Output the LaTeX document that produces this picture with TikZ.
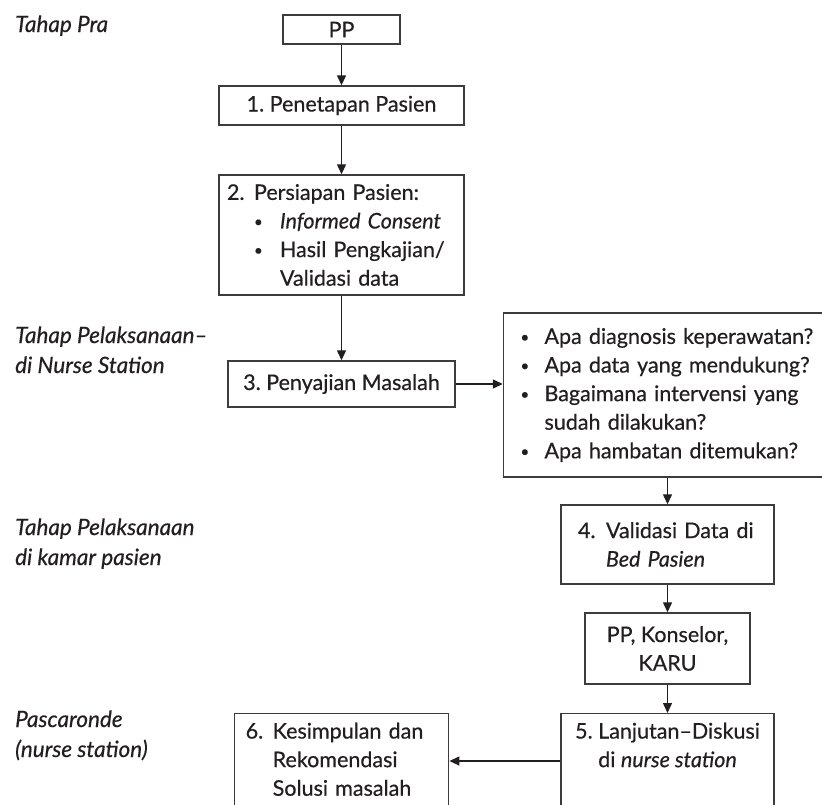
\documentclass[tikz,border=0pt]{standalone}
\usepackage{fontspec}
\setmainfont{Lato}[FakeBold=0.5]
\usetikzlibrary{arrows.meta}
\definecolor{ink}{HTML}{231F20}
\definecolor{frame}{HTML}{3C3C3C}
\newcommand\blt{\raisebox{0.15ex}{\scalebox{0.7}{\textbullet}}}
\begin{document}
\begin{tikzpicture}[x=1pt,y=-1pt,
  every node/.style={text=ink},
  txt/.style={font=\fontsize{21.5}{28.6}\selectfont},
  box/.style={txt,draw=frame,line width=1.4pt,inner sep=0pt},
  side/.style={font=\fontsize{22.5}{30}\selectfont\itshape,align=left,anchor=base west,inner sep=0pt},
  arr/.style={draw=ink,line width=1.3pt,-{Triangle[length=10pt,width=9pt]}}]
\useasboundingbox (0,0) rectangle (822,804);
\clip (0,0) rectangle (822,804);

% stage labels on the left (anchored at the baseline of their last line)
\node[side] (lpra) at (15,32) {Tahap Pra};
\node[side] (lns)  at (15,373) {Tahap Pelaksanaan–\\di Nurse Station};
\node[side] (lkp)  at (15,565) {Tahap Pelaksanaan\\di kamar pasien};
\node[side] (lpr)  at (15,757) {Pascaronde\\(nurse station)};

% main flow
\node[box,minimum width=117pt,minimum height=29pt] (pp) at (341.5,29.5) {PP};
\node[box,minimum width=245pt,minimum height=39pt] (b1) at (341.5,105.5) {1.\ Penetapan Pasien};
\node[box,text width=229pt,inner xsep=8pt,minimum height=120pt,align=left] (b2) at (341.5,235)
  {\makebox[27pt][l]{2.}Persiapan Pasien:\\
   \hspace*{27pt}\makebox[26pt][l]{\blt}\textit{Informed Consent}\\
   \hspace*{27pt}\makebox[26pt][l]{\blt}Hasil Pengkajian/\\
   \hspace*{53pt}Validasi data};
\node[box,minimum width=227pt,minimum height=46pt] (b3) at (341.5,384) {3.\ Penyajian Masalah};
\node[box,text width=294pt,inner xsep=17pt,minimum height=164pt,align=left] (q) at (667.5,395)
  {\makebox[24pt][l]{\blt}Apa diagnosis keperawatan?\\
   \makebox[24pt][l]{\blt}Apa data yang mendukung?\\
   \makebox[24pt][l]{\blt}Bagaimana intervensi yang\\
   \hspace*{24pt}sudah dilakukan?\\
   \makebox[24pt][l]{\blt}Apa hambatan ditemukan?};
\node[box,text width=179pt,inner xsep=17pt,minimum height=79pt,align=left] (b4) at (667.5,544.5)
  {\makebox[28pt][l]{4.}Validasi Data di\\
   \hspace*{28pt}\textit{Bed Pasien}};
\node[box,minimum width=165pt,minimum height=71pt,align=center] (bk) at (667.5,648.5)
  {PP, Konselor,\\KARU};
\node[box,anchor=north,minimum width=213pt,inner ysep=9pt,align=center] (b5) at (667.5,713)
  {5.\ Lanjutan–Diskusi\\di \textit{nurse station}\rule[-70pt]{0pt}{0pt}};
\node[box,anchor=north west,text width=192pt,inner xsep=11pt,inner ysep=9pt,align=left] (b6) at (234,713)
  {\makebox[27pt][l]{6.}Kesimpulan dan\\
   \hspace*{27pt}Rekomendasi\\
   \hspace*{27pt}Solusi masalah\rule[-40pt]{0pt}{0pt}};

% connectors
\coordinate (y56) at (0,761);
\draw[arr] (pp) -- (b1);
\draw[arr] (b1) -- (b2);
\draw[arr] (b2) -- (b3);
\draw[arr] (b3.east) -- (b3.east -| q.west);
\draw[arr] (q.south) -- (b4.north);
\draw[arr] (b4) -- (bk);
\draw[arr] (bk) -- (b5);
\draw[arr] (b5.west |- y56) -- (b6.east |- y56);
\end{tikzpicture}
\end{document}
